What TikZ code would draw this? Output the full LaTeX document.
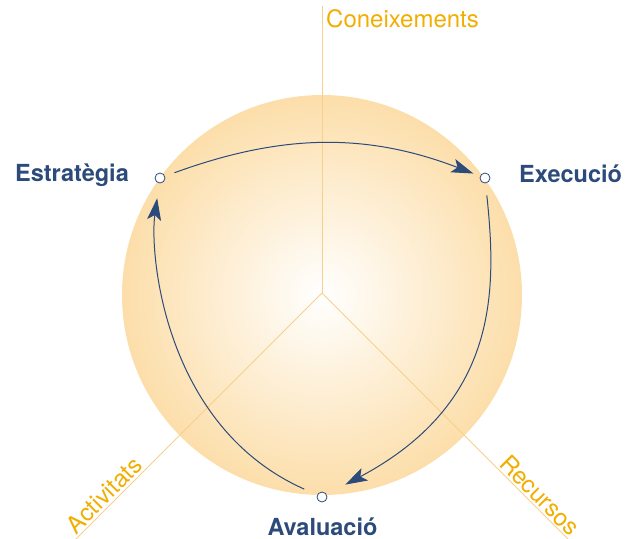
\documentclass[tikz,border=0pt]{standalone}
\usepackage{fontspec}
\setmainfont{TeX Gyre Heros}
\usepackage{xcolor}
\usetikzlibrary{positioning,arrows.meta}
\definecolor{cycleblue}{HTML}{2C4A7A}
\definecolor{axisgold}{HTML}{F2AE00}
\definecolor{axisline}{HTML}{F8D08C}
\definecolor{ballrim}{HTML}{FCDEAA}
\begin{document}
\begin{tikzpicture}[x=1pt,y=1pt,
  stage/.style={font=\fontsize{23.5}{28}\selectfont\bfseries,text=cycleblue,inner sep=0pt},
  axislbl/.style={font=\fontsize{24}{28}\selectfont,text=axisgold,inner sep=0pt},
  axis/.style={draw=axisline,line width=0.9pt},
  dot/.style={circle,draw=cycleblue,fill=white,line width=0.8pt,minimum size=10pt,inner sep=0pt},
  flow/.style={cycleblue,line width=1pt,-{Stealth[length=22pt,width=14pt,inset=5pt]}}]
\useasboundingbox (0,0) rectangle (625,-539);
\shade[inner color=white,outer color=ballrim] (322,-295) circle (200);
\coordinate (hub) at (322,-293);
\coordinate (topend) at (322,-6);
\coordinate (leftend) at (76,-539);
\coordinate (rightend) at (568,-539);
\draw[axis] (hub) -- (topend);
\draw[axis] (hub) -- (leftend);
\draw[axis] (hub) -- (rightend);
\node[axislbl,anchor=base west] (kno) at (326,-27.5) {Coneixements};
\node[axislbl,anchor=south,rotate=45,inner sep=2pt] (act) at (112,-503) {Activitats};
\node[axislbl,anchor=south,rotate=-45,inner sep=2pt] (res) at (532,-503) {Recursos};
\node[dot] (est) at (160,-178) {};
\node[dot] (exe) at (485,-178) {};
\node[dot] (ava) at (322,-497) {};
\node[stage,anchor=base east] (estlbl) at (129,-181) {Estratègia};
\node[stage,anchor=base west] (exelbl) at (519,-182) {Execució};
\node[stage,anchor=base] (avalbl) at (322.5,-535) {Avaluació};
% cycle
\draw[flow,shorten <=10pt,shorten >=7pt] (est) to[out=20,in=159] (exe);
\draw[flow,shorten <=12pt,shorten >=21pt] (exe) to[out=-84,in=28,out looseness=0.78,in looseness=1.43] (ava);
\draw[flow,shorten <=14pt,shorten >=15pt] (ava) to[out=156,in=-98,out looseness=1.23,in looseness=0.52] (est);
\end{tikzpicture}
\end{document}
